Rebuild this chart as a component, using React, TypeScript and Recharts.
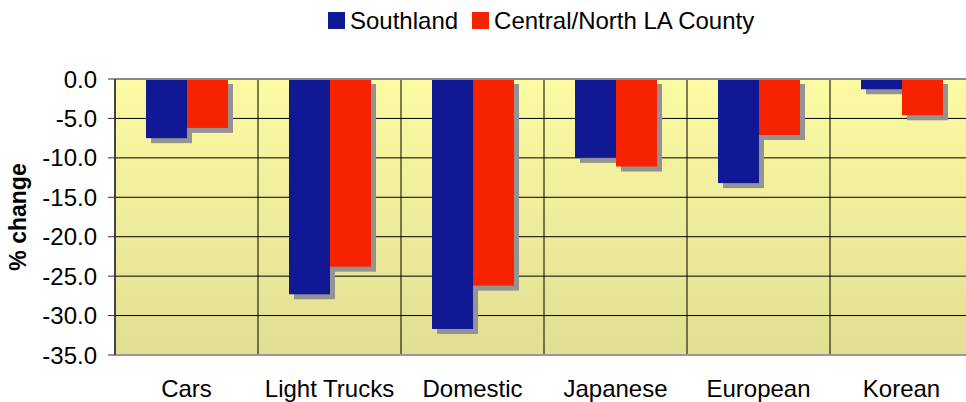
import React from 'react';
import {
  BarChart,
  Bar,
  XAxis,
  YAxis,
  CartesianGrid,
  ReferenceLine,
} from 'recharts';

const categories = ['Cars', 'Light Trucks', 'Domestic', 'Japanese', 'European', 'Korean'];
const southland = [-7.5, -27.3, -31.7, -10.0, -13.2, -1.3];
const centralNorth = [-6.2, -23.8, -26.2, -11.1, -7.1, -4.6];
const yTicks = [0, -5, -10, -15, -20, -25, -30, -35];

const BLUE = '#101894';
const RED = '#F62200';
const FONT = '"Liberation Sans", Arial, sans-serif';

const data = categories.map((name, i) => ({
  name,
  southland: southland[i],
  central: centralNorth[i],
}));

// bar with the gray drop shadow, like the old excel chart
const ShadowBar = (props: any) => {
  const { x, y, width, height, fill } = props;
  const top = Math.min(y, y + height);
  const h = Math.abs(height);
  return (
    <g>
      <rect x={x + 5} y={top + 5} width={width} height={h} fill="#939393" />
      <rect x={x} y={top} width={width} height={h} fill={fill} />
    </g>
  );
};

const YLabel = (props: any) => {
  const { viewBox } = props;
  const cx = 18;
  const cy = viewBox.y + viewBox.height / 2;
  return (
    <text
      x={cx}
      y={cy}
      transform={`rotate(-90, ${cx}, ${cy})`}
      textAnchor="middle"
      dominantBaseline="central"
      fontFamily={FONT}
      fontSize={23}
      fontWeight="bold"
      fill="#000"
    >
      % change
    </text>
  );
};

const legendItems = [
  { label: 'Southland', color: BLUE },
  { label: 'Central/North LA County', color: RED },
];

export default function App() {
  return (
    <div
      style={{
        position: 'fixed',
        top: 0,
        left: 0,
        width: 966,
        height: 402,
        overflow: 'hidden',
        background: '#fff',
        fontFamily: FONT,
      }}
    >
      <div
        style={{
          position: 'absolute',
          top: 9,
          left: 328,
          display: 'flex',
          alignItems: 'center',
          fontSize: 24,
          lineHeight: '23px',
          color: '#000',
        }}
      >
        {legendItems.map((it, i) => (
          <div key={it.label} style={{ display: 'flex', alignItems: 'center', marginRight: i === 0 ? 14 : 0 }}>
            <span style={{ width: 17, height: 17, background: it.color, marginRight: 5, display: 'inline-block' }} />
            <span>{it.label}</span>
          </div>
        ))}
      </div>
      <BarChart
        width={980}
        height={402}
        data={data}
        margin={{ top: 79, right: 7, bottom: 0, left: 0 }}
        barCategoryGap={31}
        barGap={0}
      >
        <defs>
          <linearGradient id="plotBg" x1="0" y1="0" x2="0" y2="1">
            <stop offset="0%" stopColor="#FCFAA3" />
            <stop offset="100%" stopColor="#E2DE92" />
          </linearGradient>
        </defs>
        <CartesianGrid
          fill="url(#plotBg)"
          stroke="#000"
          strokeOpacity={1}
          verticalCoordinatesGenerator={({ offset }: any) =>
            categories.map((_, i) => offset.left + (i * offset.width) / categories.length)
          }
        />
        <XAxis
          dataKey="name"
          height={47}
          axisLine={{ stroke: '#999', strokeWidth: 2 }}
          tickLine={false}
          tickSize={0}
          tickMargin={25}
          tick={{ fill: '#000', fontSize: 24, fontFamily: FONT }}
          interval={0}
        />
        <YAxis
          width={115}
          domain={[-35, 0]}
          ticks={yTicks}
          interval={0}
          tickFormatter={(v: number) => v.toFixed(1)}
          axisLine={{ stroke: '#333', strokeWidth: 1.5 }}
          tickLine={{ stroke: '#333' }}
          tickSize={7}
          tickMargin={11}
          tick={{ fill: '#000', fontSize: 24, fontFamily: FONT }}
          label={<YLabel />}
        />
        <ReferenceLine y={0} stroke="#8a8a8a" strokeWidth={2} />
        <Bar dataKey="southland" fill={BLUE} shape={<ShadowBar />} isAnimationActive={false} />
        <Bar dataKey="central" fill={RED} shape={<ShadowBar />} isAnimationActive={false} />
      </BarChart>
    </div>
  );
}
